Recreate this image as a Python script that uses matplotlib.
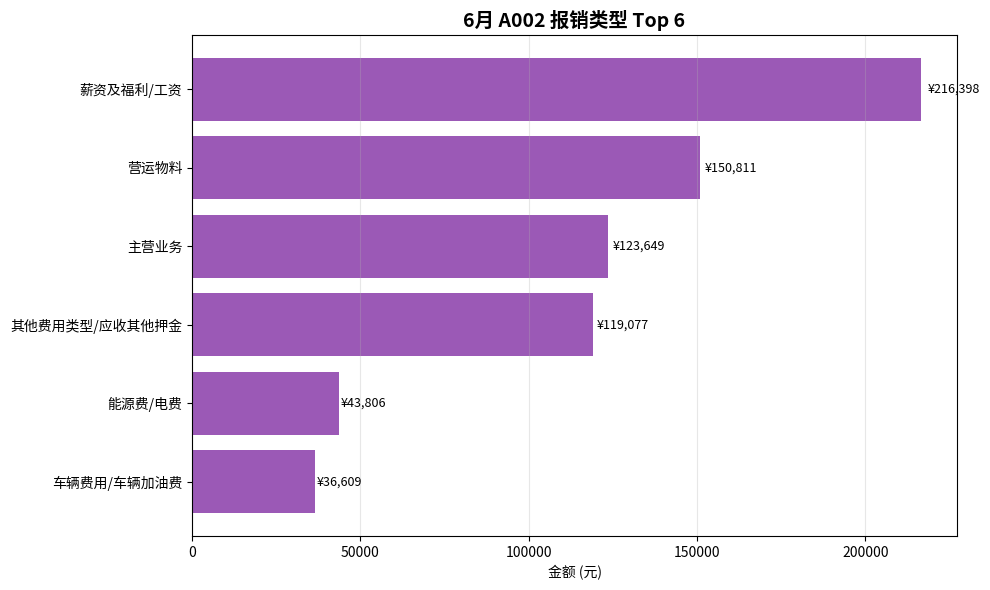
import matplotlib
matplotlib.use('Agg')
import matplotlib.pyplot as plt

plt.rcParams['font.family'] = ['Noto Sans CJK SC', 'DejaVu Sans']
plt.rcParams['axes.unicode_minus'] = False

# expense categories and amounts (top 6)
categories = ['薪资及福利/工资', '营运物料', '主营业务', '其他费用类型/应收其他押金', '能源费/电费', '车辆费用/车辆加油费']
amounts = [216398, 150811, 123649, 119077, 43806, 36609]

fig, ax = plt.subplots(figsize=(9.9, 5.9), dpi=100)

cats = categories[::-1]
vals = amounts[::-1]
bars = ax.barh(cats, vals, color='#9b59b6')

for bar, v in zip(bars, vals):
    ax.text(bar.get_width() * 1.01, bar.get_y() + bar.get_height() / 2,
            f'¥{v:,.0f}', va='center', fontsize=9)

ax.set_xlim(0, max(vals) * 1.05)
ax.set_xlabel('金额 (元)')
ax.set_title('6月 A002 报销类型 Top 6', fontsize=14, fontweight='bold')
ax.grid(axis='x', alpha=0.3)

fig.subplots_adjust(left=192 / 990, right=957 / 990, top=1 - 35 / 590, bottom=1 - 536 / 590)
plt.savefig('out.png')
